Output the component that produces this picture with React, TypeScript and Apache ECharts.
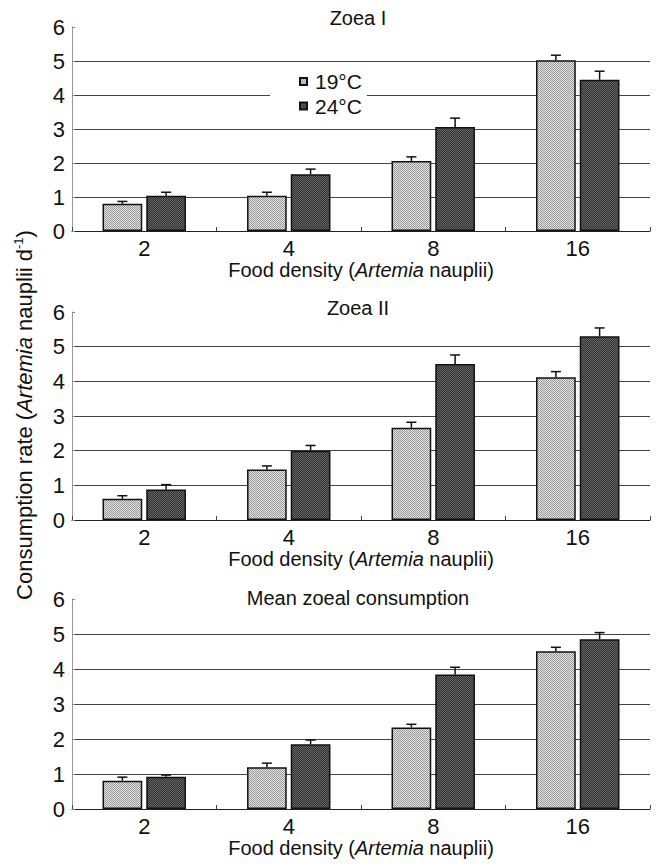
import React, { useEffect, useRef } from "react";
import * as echarts from "echarts";

const categories = ["2", "4", "8", "16"];
const seriesNames = ["19°C", "24°C"];
const panelTitles = ["Zoea I", "Zoea II", "Mean zoeal consumption"];

const zoea1_19 = [0.8, 1.04, 2.06, 5.02];
const zoea1_19_se = [0.07, 0.1, 0.12, 0.15];
const zoea1_24 = [1.04, 1.67, 3.06, 4.45];
const zoea1_24_se = [0.1, 0.15, 0.26, 0.25];

const zoea2_19 = [0.61, 1.46, 2.66, 4.12];
const zoea2_19_se = [0.09, 0.1, 0.16, 0.16];
const zoea2_24 = [0.88, 2.0, 4.5, 5.3];
const zoea2_24_se = [0.14, 0.15, 0.26, 0.24];

const mean_19 = [0.81, 1.19, 2.33, 4.51];
const mean_19_se = [0.1, 0.12, 0.09, 0.11];
const mean_24 = [0.92, 1.85, 3.84, 4.85];
const mean_24_se = [0.05, 0.12, 0.21, 0.19];

const yTicks = [0, 1, 2, 3, 4, 5, 6];

const panels = [
  { lo: zoea1_19, loSe: zoea1_19_se, hi: zoea1_24, hiSe: zoea1_24_se },
  { lo: zoea2_19, loSe: zoea2_19_se, hi: zoea2_24, hiSe: zoea2_24_se },
  { lo: mean_19, loSe: mean_19_se, hi: mean_24, hiSe: mean_24_se },
];

const FONT = "'Liberation Sans', Arial, Helvetica, sans-serif";
const FS_TICK = 22;
const FS_NAME = 20;
const FS_TITLE = 20;
const FS_LEGEND = 21;
const FS_YLABEL = 22;
const BAR_W = 0.275;
const BAR_GAP = 0.1;

function makePattern(base: string, dot: string) {
  const c = document.createElement("canvas");
  c.width = 2;
  c.height = 2;
  const ctx = c.getContext("2d")!;
  ctx.fillStyle = base;
  ctx.fillRect(0, 0, 2, 2);
  ctx.fillStyle = dot;
  ctx.fillRect(0, 0, 1, 1);
  ctx.fillRect(1, 1, 1, 1);
  return c;
}

export default function App() {
  const ref = useRef<HTMLDivElement>(null);
  useEffect(() => {
    document.body.style.margin = "0";
    if (!ref.current) return;
    const chart = echarts.init(ref.current, undefined, { renderer: "svg" });

    const lightFill: any = { image: makePattern("#e2e2e2", "#9a9a9a"), repeat: "repeat" };
    const darkFill: any = { image: makePattern("#303030", "#666666"), repeat: "repeat" };
    const fills = [lightFill, darkFill];

    const grids = [
      { left: 72, width: 578, top: 27, height: 204 },
      { left: 72, width: 578, top: 312, height: 208 },
      { left: 72, width: 578, top: 599, height: 210 },
    ];

    const xAxes: any[] = grids.map((_, i) => ({
      type: "category",
      gridIndex: i,
      data: categories,
      boundaryGap: true,
      axisLine: { show: true, lineStyle: { color: "#222", width: 1 } },
      axisTick: { show: true, inside: true, length: 4, lineStyle: { color: "#444" } },
      axisLabel: { color: "#111", fontSize: FS_TICK, fontFamily: FONT, margin: 6 },
      name: "{n|Food density (}{i|Artemia}{n| nauplii)}",
      nameLocation: "middle",
      nameGap: 26,
      nameTextStyle: {
        color: "#111",
        fontSize: FS_NAME,
        fontFamily: FONT,
        rich: {
          n: { fontSize: FS_NAME, fontFamily: FONT, color: "#111" },
          i: { fontSize: FS_NAME, fontFamily: FONT, color: "#111", fontStyle: "italic" },
        },
      },
    }));

    const yAxes: any[] = grids.map((_, i) => ({
      type: "value",
      gridIndex: i,
      min: yTicks[0],
      max: yTicks[yTicks.length - 1],
      interval: 1,
      axisLine: { show: true, lineStyle: { color: "#999", width: 1 } },
      axisTick: { show: true, inside: true, length: 3, lineStyle: { color: "#888" } },
      axisLabel: { color: "#111", fontSize: FS_TICK, fontFamily: FONT, margin: 7 },
      splitLine: {
        show: true,
        showMinLine: false,
        showMaxLine: false,
        lineStyle: { color: "#444", width: 1 },
      },
    }));

    const series: any[] = [];
    panels.forEach((p, gi) => {
      const vals = [p.lo, p.hi];
      const ses = [p.loSe, p.hiSe];
      vals.forEach((v, si) => {
        series.push({
          type: "bar",
          name: seriesNames[si],
          xAxisIndex: gi,
          yAxisIndex: gi,
          data: v,
          barWidth: BAR_W * 100 + "%",
          barGap: BAR_GAP * 100 + "%",
          itemStyle: { color: fills[si], borderColor: "#111", borderWidth: 1.5 },
          z: 2,
        });
      });
      vals.forEach((v, si) => {
        series.push({
          type: "custom",
          xAxisIndex: gi,
          yAxisIndex: gi,
          z: 3,
          data: v.map((val, ci) => [ci, val, val + ses[si][ci]]),
          renderItem: (params: any, api: any) => {
            const ci = api.value(0);
            const top = api.coord([ci, api.value(1)]);
            const errTop = api.coord([ci, api.value(2)]);
            const band = api.size([1, 0])[0];
            const bw = band * BAR_W;
            const off = ((bw + bw * BAR_GAP) / 2) * (si === 0 ? -1 : 1);
            const x = top[0] + off;
            const capHalf = 5;
            const style = { stroke: "#111", lineWidth: 1.5 };
            return {
              type: "group",
              children: [
                { type: "line", shape: { x1: x, y1: top[1], x2: x, y2: errTop[1] }, style },
                { type: "line", shape: { x1: x - capHalf, y1: errTop[1], x2: x + capHalf, y2: errTop[1] }, style },
              ],
            };
          },
        });
      });
    });

    const titleY = [18, 308, 598];

    const option: any = {
      animation: false,
      backgroundColor: "#fff",
      grid: grids,
      xAxis: xAxes,
      yAxis: yAxes,
      legend: {
        data: seriesNames,
        orient: "vertical",
        left: 270,
        top: 69,
        itemWidth: 7,
        itemHeight: 7,
        itemGap: 3.5,
        padding: [2, 5, 2, 29],
        backgroundColor: "#fff",
        icon: "rect",
        textStyle: { color: "#111", fontSize: FS_LEGEND, fontFamily: FONT, lineHeight: 21, padding: [0, 0, 0, 3] },
      },
      graphic: [
        ...panelTitles.map((t, i) => ({
          type: "text",
          x: 358,
          y: titleY[i],
          style: {
            text: t,
            fontSize: FS_TITLE,
            fontFamily: FONT,
            fill: "#111",
            align: "center",
            verticalAlign: "middle",
          },
        })),
        {
          type: "text",
          x: 24,
          y: 415,
          rotation: Math.PI / 2,
          style: {
            text: "{n|Consumption rate (}{i|Artemia}{n| nauplii d}{s|-1}{n|)}",
            align: "center",
            verticalAlign: "middle",
            rich: {
              n: { fontSize: FS_YLABEL, fontFamily: FONT, fill: "#111", lineHeight: 24 },
              i: { fontSize: FS_YLABEL, fontFamily: FONT, fill: "#111", fontStyle: "italic", lineHeight: 24 },
              s: { fontSize: 13, fontFamily: FONT, fill: "#111", lineHeight: 24, verticalAlign: "top" },
            },
          },
        },
      ],
      series,
    };
    chart.setOption(option);
    return () => chart.dispose();
  }, []);
  return <div ref={ref} style={{ width: 658, height: 868 }} />;
}
